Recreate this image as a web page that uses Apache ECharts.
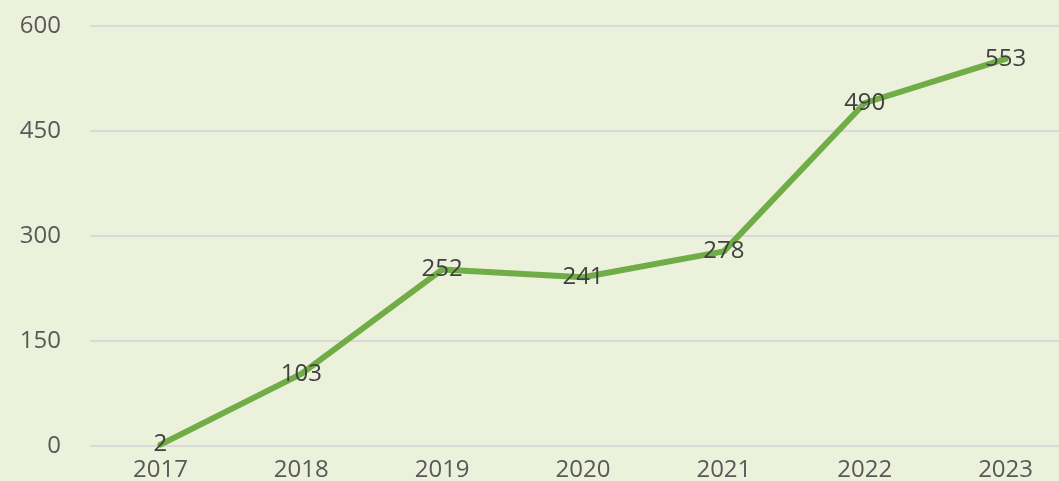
<!DOCTYPE html>
<html><head><meta charset="utf-8">
<script src="https://cdn.jsdelivr.net/npm/echarts@6/dist/echarts.min.js"></script>
<style>html,body{margin:0;padding:0;background:#EBF1DB;}#c{width:1059px;height:481px;}</style>
</head><body><div id="c"></div>
<script>
const categories = ['2017','2018','2019','2020','2021','2022','2023'];
const values = [2,103,252,241,278,490,553];
const yTicks = [0,150,300,450,600];
const chart = echarts.init(document.getElementById('c'));
chart.setOption({
  backgroundColor:'#EBF1DB',
  animation:false,
  grid:{left:90,width:986,top:26,height:420,containLabel:false,outerBoundsMode:'none'},
  xAxis:{type:'category',data:categories,boundaryGap:true,
    axisLine:{show:false},axisTick:{show:false},
    axisLabel:{color:'#595959',fontSize:24,fontFamily:'Open Sans',margin:12}},
  yAxis:{type:'value',min:yTicks[0],max:yTicks[yTicks.length-1],interval:150,
    axisLine:{show:false},axisTick:{show:false},
    splitLine:{lineStyle:{color:'#D9D9D9',width:2}},
    axisLabel:{color:'#595959',fontSize:24,fontFamily:'Open Sans',margin:29}},
  series:[{type:'line',data:values,symbol:'circle',symbolSize:1,showSymbol:true,
    itemStyle:{color:'#70AD47',opacity:0},
    lineStyle:{color:'#70AD47',width:6,cap:'round',join:'round'},
    label:{show:true,position:'inside',color:'#404040',fontSize:24,fontFamily:'Open Sans',opacity:1}}]
});
</script></body></html>
